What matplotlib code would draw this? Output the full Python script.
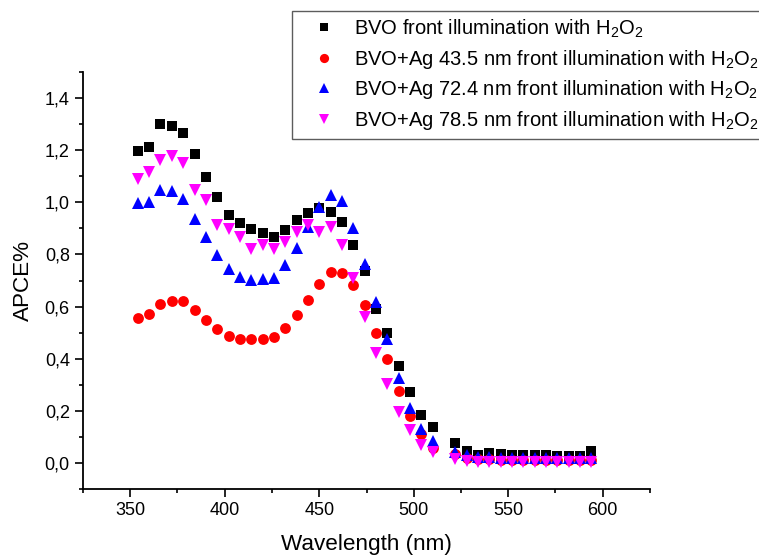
import matplotlib
matplotlib.use("Agg")
import matplotlib.pyplot as plt
from matplotlib.ticker import MultipleLocator, FixedLocator, FixedFormatter

plt.rcParams["font.family"] = ["Liberation Sans", "DejaVu Sans"]
plt.rcParams["mathtext.fontset"] = "custom"
plt.rcParams["mathtext.rm"] = "Liberation Sans"
plt.rcParams["mathtext.it"] = "Liberation Sans:italic"

# Wavelength grid (nm)
wavelength = [354, 360, 366, 372, 378, 384, 390, 396, 402, 408, 414, 420, 426,
              432, 438, 444, 450, 456, 462, 468, 474, 480, 486, 492, 498, 504,
              510, 522, 528, 534, 540, 546, 552, 558, 564, 570, 576, 582, 588,
              594]

# APCE (%) per sample
apce_bvo = [1.197, 1.213, 1.299, 1.292, 1.267, 1.184, 1.098, 1.019, 0.952, 0.919,
            0.897, 0.882, 0.867, 0.894, 0.932, 0.959, 0.978, 0.963, 0.923, 0.835,
            0.736, 0.591, 0.497, 0.373, 0.271, 0.185, 0.137, 0.075, 0.045, 0.030,
            0.038, 0.036, 0.032, 0.032, 0.032, 0.032, 0.025, 0.028, 0.028, 0.045]
apce_ag435 = [0.557, 0.570, 0.610, 0.620, 0.620, 0.586, 0.549, 0.512, 0.488, 0.476,
              0.474, 0.474, 0.484, 0.517, 0.567, 0.627, 0.686, 0.733, 0.730, 0.682,
              0.605, 0.499, 0.397, 0.276, 0.181, 0.110, 0.056, 0.033, 0.020, 0.015,
              0.015, 0.012, 0.012, 0.012, 0.012, 0.012, 0.010, 0.010, 0.012, 0.012]
apce_ag724 = [0.999, 1.000, 1.049, 1.043, 1.014, 0.937, 0.865, 0.797, 0.743, 0.715,
              0.703, 0.704, 0.711, 0.759, 0.826, 0.905, 0.982, 1.029, 1.005, 0.900,
              0.762, 0.616, 0.474, 0.327, 0.212, 0.130, 0.084, 0.043, 0.030, 0.022,
              0.022, 0.020, 0.020, 0.020, 0.020, 0.020, 0.018, 0.018, 0.020, 0.020]
apce_ag785 = [1.088, 1.116, 1.161, 1.176, 1.151, 1.049, 1.008, 0.912, 0.899, 0.867,
              0.821, 0.837, 0.820, 0.848, 0.886, 0.912, 0.886, 0.905, 0.835, 0.710,
              0.561, 0.423, 0.303, 0.197, 0.126, 0.070, 0.041, 0.015, 0.008, 0.005,
              0.005, 0.005, 0.005, 0.005, 0.005, 0.005, 0.005, 0.005, 0.005, 0.005]

h2o2 = r"H$_\mathregular{2}$O$_\mathregular{2}$"
series_labels = [
    "BVO front illumination with " + h2o2,
    "BVO+Ag 43.5 nm front illumination with " + h2o2,
    "BVO+Ag 72.4 nm front illumination with " + h2o2,
    "BVO+Ag 78.5 nm front illumination with " + h2o2,
]
series_colors = ["#000000", "#ff0000", "#0000ff", "#ff00ff"]
series_markers = ["s", "o", "^", "v"]
series_sizes = [6.5, 7.8, 8.3, 8.3]

x_ticks = [350, 400, 450, 500, 550, 600]
y_ticks = [0.0, 0.2, 0.4, 0.6, 0.8, 1.0, 1.2, 1.4]
y_tick_labels = ["0,0", "0,2", "0,4", "0,6", "0,8", "1,0", "1,2", "1,4"]

fig = plt.figure(figsize=(7.59, 5.56), dpi=100)
ax = fig.add_axes([83 / 759, 67 / 556, 567 / 759, 417 / 556])

all_series = [apce_bvo, apce_ag435, apce_ag724, apce_ag785]
for ys, lab, col, mk, ms in zip(all_series, series_labels, series_colors,
                                series_markers, series_sizes):
    ax.plot(wavelength, ys, linestyle="none", marker=mk, markersize=ms,
            color=col, markeredgewidth=0, label=lab)

ax.set_xlim(325, 625)
ax.set_ylim(-0.1, 1.5)
ax.xaxis.set_major_locator(FixedLocator(x_ticks))
ax.xaxis.set_minor_locator(MultipleLocator(25))
ax.yaxis.set_major_locator(FixedLocator(y_ticks))
ax.yaxis.set_major_formatter(FixedFormatter(y_tick_labels))
ax.yaxis.set_minor_locator(MultipleLocator(0.1))

for side in ("top", "right"):
    ax.spines[side].set_visible(False)
for side in ("left", "bottom"):
    ax.spines[side].set_linewidth(1.3)

ax.tick_params(which="major", direction="out", length=5.5, width=1.2,
               labelsize=13, pad=4)
ax.tick_params(which="minor", direction="out", length=3, width=1.2)

ax.set_xlabel("Wavelength (nm)", fontsize=16.2, labelpad=10.5)
ax.set_ylabel("APCE%", fontsize=16.2, labelpad=8)

leg = fig.legend(loc="upper left", bbox_to_anchor=(292 / 759, 1 - 11 / 556),
                 fontsize=14.5, frameon=True, fancybox=False, shadow=False,
                 borderpad=0.32, handlelength=2.55, handletextpad=0.2,
                 labelspacing=0.39, borderaxespad=0, markerscale=0.85)
leg.get_frame().set_edgecolor("#333333")
leg.get_frame().set_linewidth(1.0)

fig.savefig("out.png", dpi=100)
